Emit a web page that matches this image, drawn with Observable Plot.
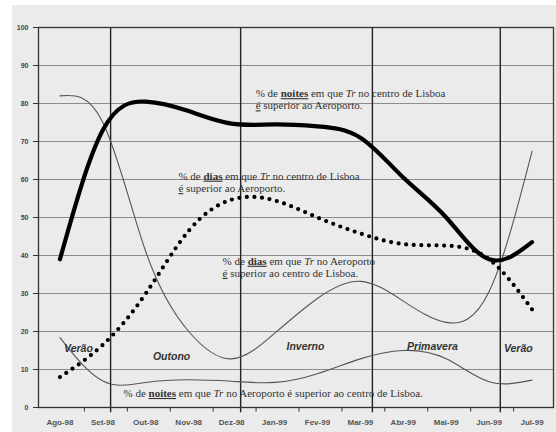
<!DOCTYPE html>
<html><head><meta charset="utf-8">
<script src="https://cdn.jsdelivr.net/npm/d3@7"></script>
<script src="https://cdn.jsdelivr.net/npm/@observablehq/plot@0.6"></script>
<style>
body{margin:0;background:#fff;}
#wrap{position:relative;width:556px;height:432px;overflow:hidden;}
#bg{position:absolute;left:12px;top:5px;right:0;bottom:0;background:#ebebeb;}
#chart{position:absolute;left:0;top:0;}
svg text{white-space:pre;}
</style></head><body>
<div id="wrap"><div id="bg"></div><div id="chart"></div></div>
<script>
// Categories (month labels)
const months = ["Ago-98","Set-98","Out-98","Nov-98","Dez-98","Jan-99","Fev-99","Mar-99","Abr-99","Mai-99","Jun-99","Jul-99"];
// Series values (%)
const noitesCentro = [39, 73, 80.5, 78, 74.7, 74.5, 74, 71, 60.5, 50, 39, 43.5];
const diasCentro   = [8, 16.5, 30, 46.5, 54.7, 54.5, 50, 45.8, 43, 42.6, 39, 25.8];
const diasAero     = [82, 75, 41, 20, 12.8, 19.5, 28.7, 33.2, 28, 22.4, 30.5, 67.4];
const noitesAero   = [18.4, 7, 6.6, 7.3, 6.9, 6.6, 8.9, 12.8, 15, 12.8, 6.8, 7.2];
// Season boundaries (equinoxes / solstices, expressed as month index)
const seasonBoundaries = [1.18, 4.21, 7.28, 10.26];
const seasonNames = ["Verão","Outono","Inverno","Primavera","Verão"];
const yTicks = [0,10,20,30,40,50,60,70,80,90,100];

const seriesDefs = [
  {key:"diasAero", values: diasAero},
  {key:"noitesAero", values: noitesAero},
  {key:"noitesCentro", values: noitesCentro},
  {key:"diasCentro", values: diasCentro}
];
const rows = k => seriesDefs.find(s => s.key === k).values.map((v, i) => ({i, v}));

// annotation placement (layout, not data)
const seasonLabels = seasonNames.map((t, j) => ({t, x: [0.43, 2.6, 5.72, 8.68, 10.68][j], y: [15.5, 13.4, 16, 16, 15.5][j]}));
const notes = [
  {x: 4.56, y: 82.6, t: "% de **noites** em que *Tr* no centro de Lisboa"},
  {x: 4.56, y: 79.4, t: "_é_ superior ao Aeroporto."},
  {x: 2.76, y: 60.9, t: "% de **dias** em que *Tr* no centro de Lisboa"},
  {x: 2.76, y: 57.6, t: "_é_ superior ao Aeroporto."},
  {x: 3.79, y: 38.5, t: "% de **dias** em que *Tr* no Aeroporto"},
  {x: 3.79, y: 35.3, t: "_é_ superior ao centro de Lisboa."},
  {x: 1.48, y: 3.7, t: "% de **noites** em que *Tr* no Aeroporto é superior ao centro de Lisboa."}
];

const chart = Plot.plot({
  width: 556, height: 432,
  marginLeft: 38, marginRight: 3, marginTop: 27, marginBottom: 25,
  style: {background: "transparent", fontFamily: "Liberation Sans, Arial, sans-serif"},
  x: {domain: [-0.5, 11.5]},
  y: {domain: [0, 100]},
  marks: [
    Plot.gridY(yTicks.filter(d => d > 0 && d < 100), {stroke: "#8c8c8c", strokeOpacity: 1, strokeWidth: 1}),
    Plot.ruleX(months.map((m, i) => i + 0.57), {y1: -1.2, y2: 0, stroke: "#333"}),
    Plot.ruleX(seasonBoundaries, {y1: -1.4, y2: 100, stroke: "#222", strokeWidth: 1.4}),
    Plot.frame({stroke: "#333", strokeWidth: 1.3}),
    Plot.line(rows("diasAero"), {x: "i", y: "v", stroke: "#555", strokeWidth: 1.1, curve: "natural"}),
    Plot.line(rows("noitesAero"), {x: "i", y: "v", stroke: "#555", strokeWidth: 1.1, curve: "natural"}),
    Plot.line(rows("noitesCentro"), {x: "i", y: "v", stroke: "#000", strokeWidth: 4.2, curve: "natural"}),
    Plot.line(rows("diasCentro"), {x: "i", y: "v", stroke: "#000", strokeWidth: 4.2, strokeDasharray: "0,7.6", strokeLinecap: "round", curve: "natural"}),
    Plot.text(notes, {x: "x", y: "y", text: "t", textAnchor: "start", fontFamily: "Liberation Serif, Times New Roman, serif", fontSize: 11, fill: "#333"}),
    Plot.text(seasonLabels, {x: "x", y: "y", text: "t", fontFamily: "Liberation Sans, Arial, sans-serif", fontWeight: "bold", fontStyle: "italic", fontSize: 10.5, fill: "#333"}),
    Plot.axisY({ticks: yTicks, tickSize: 5, tickPadding: 5, fontSize: 7, fontWeight: "bold", fill: "#444", stroke: "#333", label: null}),
    Plot.axisX({ticks: d3.range(months.length), tickFormat: i => months[i], tickSize: 0, tickPadding: 12, fontSize: 8, fontWeight: "bold", fill: "#555", label: null})
  ]
});

// Rich formatting for annotation markup: **bold+underline**, *italic*, _underline_
d3.select(chart).selectAll("text").each(function() {
  const s = this.textContent;
  if (!/[*_]/.test(s)) return;
  const el = d3.select(this);
  el.text(null);
  s.split(/(\*\*[^*]+\*\*|\*[^*]+\*|_[^_]+_)/).filter(Boolean).forEach(p => {
    const ts = el.append("tspan");
    if (p.startsWith("**")) ts.text(p.slice(2, -2)).attr("font-weight", "bold").attr("text-decoration", "underline");
    else if (p.startsWith("*")) ts.text(p.slice(1, -1)).attr("font-style", "italic");
    else if (p.startsWith("_")) ts.text(p.slice(1, -1)).attr("text-decoration", "underline");
    else ts.text(p);
  });
});

document.getElementById("chart").appendChild(chart);
</script>
</body></html>
